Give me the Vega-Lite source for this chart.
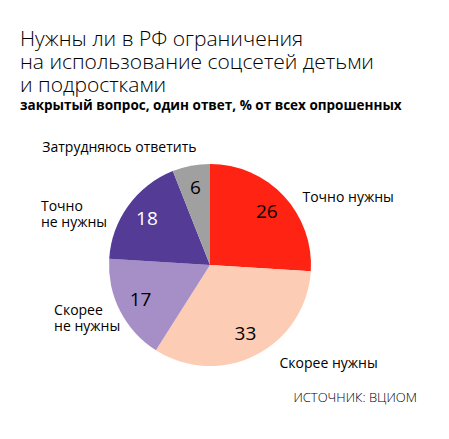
{
  "$schema": "https://vega.github.io/schema/vega-lite/v6.json",
  "padding": {"left": 20, "top": 28, "right": 0, "bottom": 0},
  "background": "white",
  "config": {"view": {"stroke": null}, "font": "Open Sans"},
  "title": {
    "text": ["Нужны ли в РФ ограничения", "на использование соцсетей детьми", "и подростками"],
    "subtitle": "закрытый вопрос, один ответ, % от всех опрошенных",
    "anchor": "start",
    "font": "Open Sans",
    "fontSize": 21,
    "fontWeight": 300,
    "lineHeight": 23,
    "color": "#000000",
    "subtitleFont": "Open Sans",
    "subtitleFontSize": 13.5,
    "subtitleFontWeight": 700,
    "subtitleColor": "#000000",
    "subtitlePadding": 3,
    "offset": 28
  },
  "datasets": {
    "poll": [
      {"label": "Точно нужны", "value": 26, "order": 1},
      {"label": "Скорее нужны", "value": 33, "order": 2},
      {"label": "Скорее не нужны", "value": 17, "order": 3},
      {"label": "Точно не нужны", "value": 18, "order": 4},
      {"label": "Затрудняюсь ответить", "value": 6, "order": 5}
    ]
  },
  "vconcat": [
    {
      "width": 380,
      "height": 250,
      "title": {
        "text": "ИСТОЧНИК: ВЦИОМ",
        "orient": "bottom",
        "anchor": "end",
        "font": "Open Sans",
        "fontSize": 13,
        "fontWeight": 300,
        "color": "#000000",
        "dx": 17,
        "offset": 2
      },
      "data": {"name": "poll"},
      "transform": [
        {"stack": "value", "groupby": [], "sort": [{"field": "order"}], "as": ["v0", "v1"]},
        {"calculate": "(datum.v0 + datum.v1) / 2", "as": "mid"}
      ],
      "layer": [
        {
          "mark": {"type": "arc", "outerRadius": 101},
          "encoding": {
            "theta": {"field": "v0", "type": "quantitative", "scale": {"domain": [0, 100]}},
            "theta2": {"field": "v1"},
            "color": {
              "field": "label",
              "type": "nominal",
              "legend": null,
              "scale": {
                "domain": ["Точно нужны", "Скорее нужны", "Скорее не нужны", "Точно не нужны", "Затрудняюсь ответить"],
                "range": ["#ff2314", "#fdccb4", "#a68fc6", "#533b96", "#a0a0a0"]
              }
            }
          }
        },
        {
          "mark": {"type": "text", "fontSize": 19, "align": "center", "baseline": "middle"},
          "encoding": {
            "theta": {"field": "mid", "type": "quantitative"},
            "radius": {"value": 78},
            "text": {"field": "value", "type": "quantitative"},
            "color": {
              "condition": {"test": "datum.label === 'Точно не нужны'", "value": "#ffffff"},
              "value": "#000000"
            }
          }
        },
        {
          "transform": [{"filter": "datum.label === 'Точно нужны'"}],
          "mark": {"type": "text", "fontSize": 14, "align": "left", "baseline": "middle", "dx": 5, "dy": 15, "color": "#000000"},
          "encoding": {
            "theta": {"field": "mid", "type": "quantitative"},
            "radius": {"value": 120},
            "text": {"field": "label"}
          }
        },
        {
          "transform": [{"filter": "datum.label === 'Скорее нужны'"}],
          "mark": {"type": "text", "fontSize": 14, "align": "left", "baseline": "middle", "dx": 15, "dy": -8, "color": "#000000"},
          "encoding": {
            "theta": {"field": "mid", "type": "quantitative"},
            "radius": {"value": 120},
            "text": {"field": "label"}
          }
        },
        {
          "transform": [{"filter": "datum.label === 'Скорее не нужны'"}],
          "mark": {"type": "text", "fontSize": 14, "align": "left", "baseline": "middle", "lineHeight": 16, "dx": -49, "dy": -8, "color": "#000000"},
          "encoding": {
            "theta": {"field": "mid", "type": "quantitative"},
            "radius": {"value": 120},
            "text": {"value": ["Скорее", "не нужны"]}
          }
        },
        {
          "transform": [{"filter": "datum.label === 'Точно не нужны'"}],
          "mark": {"type": "text", "fontSize": 14, "align": "left", "baseline": "middle", "lineHeight": 16, "dx": -72, "dy": 13, "color": "#000000"},
          "encoding": {
            "theta": {"field": "mid", "type": "quantitative"},
            "radius": {"value": 120},
            "text": {"value": ["Точно", "не нужны"]}
          }
        },
        {
          "transform": [{"filter": "datum.label === 'Затрудняюсь ответить'"}],
          "mark": {"type": "text", "fontSize": 14, "align": "right", "baseline": "middle", "dx": 9, "dy": 1, "color": "#000000"},
          "encoding": {
            "theta": {"field": "mid", "type": "quantitative"},
            "radius": {"value": 120},
            "text": {"field": "label"}
          }
        }
      ]
    }
  ]
}
